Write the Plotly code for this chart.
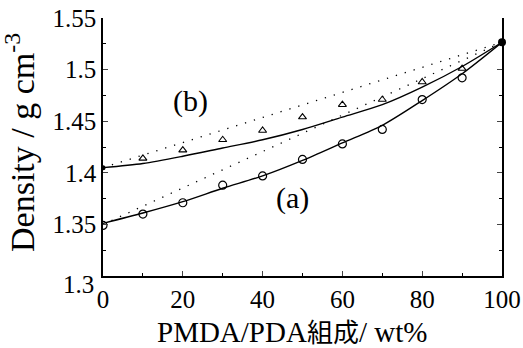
import plotly.graph_objects as go

# composition (wt%)
x_pts = [0, 10, 20, 30, 40, 50, 60, 70, 80, 90, 100]

# measured densities
dens_a = [1.349, 1.360, 1.371, 1.388, 1.397, 1.413, 1.428, 1.442, 1.471, 1.492, 1.5265]
dens_b = [1.405, 1.414, 1.422, 1.432, 1.441, 1.454, 1.466, 1.471, 1.488, 1.501, 1.5265]

# smooth (solid) curves
fit_a = [1.351, 1.361, 1.372, 1.385, 1.397, 1.412, 1.429, 1.446, 1.470, 1.496, 1.5265]
fit_b = [1.405, 1.409, 1.416, 1.424, 1.432, 1.442, 1.454, 1.466, 1.483, 1.503, 1.5265]

# additive (dotted) lines
lin_x = [0, 100]
lin_a = [1.350, 1.5265]
lin_b = [1.405, 1.5265]

y_ticks = [1.35, 1.4, 1.45, 1.5, 1.55]
y_tick_text = ["1.35", "1.4", "1.45", "1.5", "1.55"]
x_ticks = [0, 20, 40, 60, 80, 100]

FONT = "Liberation Serif, Times New Roman, serif"

fig = go.Figure()

for ly in (lin_a, lin_b):
    fig.add_trace(go.Scatter(x=lin_x, y=ly, mode="lines",
                             line=dict(color="black", width=1.3, dash="1.3px,8px"),
                             showlegend=False, hoverinfo="skip"))

for fy in (fit_a, fit_b):
    fig.add_trace(go.Scatter(x=x_pts, y=fy, mode="lines",
                             line=dict(color="black", width=1.4, shape="spline", smoothing=0.8),
                             showlegend=False))

fig.add_trace(go.Scatter(x=x_pts[:-1], y=dens_a[:-1], mode="markers",
                         marker=dict(symbol="circle-open", size=8, color="black",
                                     line=dict(width=1.2, color="black")),
                         showlegend=False))
fig.add_trace(go.Scatter(x=x_pts[1:-1], y=dens_b[1:-1], mode="markers",
                         marker=dict(symbol="triangle-up-open", size=7, color="black",
                                     line=dict(width=1.1, color="black")),
                         showlegend=False))
fig.add_trace(go.Scatter(x=[x_pts[0]], y=[dens_b[0]], mode="markers",
                         marker=dict(symbol="circle", size=5, color="black"),
                         showlegend=False))
fig.add_trace(go.Scatter(x=[x_pts[-1]], y=[dens_a[-1]], mode="markers",
                         marker=dict(symbol="circle", size=8, color="black"),
                         cliponaxis=False, showlegend=False))

fig.update_layout(
    width=523, height=348,
    margin=dict(l=103, r=21, t=18, b=72),
    paper_bgcolor="white", plot_bgcolor="white",
    font=dict(family=FONT, color="black", size=25),
    xaxis=dict(range=[0, 100], tickvals=x_ticks, ticks="inside", ticklen=5,
               tickwidth=1, showline=True, linecolor="black", linewidth=1.5,
               showgrid=False, zeroline=False, mirror=False, automargin=False,
               tickfont=dict(size=25, family=FONT),
               minor=dict(dtick=10, ticks="inside", ticklen=3, tickcolor="black")),
    yaxis=dict(range=[1.3, 1.55], tickvals=y_ticks, ticktext=y_tick_text,
               ticks="inside", ticklen=5, tickwidth=1, showline=True,
               linecolor="black", linewidth=1.5, showgrid=False, zeroline=False,
               mirror="ticks", automargin=False, tickfont=dict(size=25, family=FONT),
               minor=dict(dtick=0.025, ticks="inside", ticklen=3, tickcolor="black")),
    annotations=[
        dict(x=0, y=1.3, xref="x", yref="y", text="1.3", showarrow=False,
             xanchor="right", yanchor="middle", xshift=-7, yshift=-8,
             font=dict(size=25, family=FONT)),
        dict(x=22, y=1.47, xref="x", yref="y", text="(b)", showarrow=False,
             font=dict(size=30, family=FONT)),
        dict(x=47.5, y=1.376, xref="x", yref="y", text="(a)", showarrow=False,
             font=dict(size=30, family=FONT)),
        dict(x=(292 - 103) / 399, y=(276 - 330) / 258, xref="paper", yref="paper",
             text="PMDA/PDA<span style='font-family:Noto Sans CJK JP;font-size:26px'>組成</span>/ wt%",
             showarrow=False, xanchor="center", yanchor="middle",
             font=dict(size=29, family=FONT)),
        dict(x=(20 - 103) / 399, y=(276 - 143) / 258, xref="paper", yref="paper",
             text="Density / g cm<sup>-3</sup>", textangle=-90,
             showarrow=False, xanchor="center", yanchor="middle",
             font=dict(size=34, family=FONT)),
    ],
)

fig.write_html("out.html")
